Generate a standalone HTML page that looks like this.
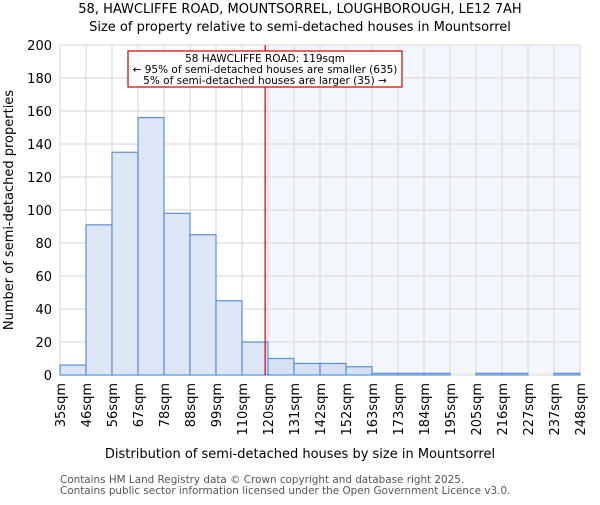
<!DOCTYPE html>
<html><head><meta charset="utf-8"><style>
body{margin:0;background:#fff;}
svg text{font-family:"DejaVu Sans","Liberation Sans",sans-serif;}
</style></head><body>
<svg id="c" width="600" height="500" xmlns="http://www.w3.org/2000/svg">
<text x="300" y="13" text-anchor="middle" font-size="13">58, HAWCLIFFE ROAD, MOUNTSORREL, LOUGHBOROUGH, LE12 7AH</text>
<text x="300" y="31" text-anchor="middle" font-size="13">Size of property relative to semi-detached houses in Mountsorrel</text>
<g id="plot"></g>
<text x="300" y="458" text-anchor="middle" font-size="13">Distribution of semi-detached houses by size in Mountsorrel</text>
<text transform="translate(13,210) rotate(-90)" text-anchor="middle" font-size="13">Number of semi-detached properties</text>
<text x="60" y="483" font-size="10.4" fill="#555">Contains HM Land Registry data © Crown copyright and database right 2025.</text>
<text x="60" y="494" font-size="10.4" fill="#555">Contains public sector information licensed under the Open Government Licence v3.0.</text>
</svg>
<script>
const labels=["35sqm","46sqm","56sqm","67sqm","78sqm","88sqm","99sqm","110sqm","120sqm","131sqm","142sqm","152sqm","163sqm","173sqm","184sqm","195sqm","205sqm","216sqm","227sqm","237sqm","248sqm"];
const counts=[6,91,135,156,98,85,45,20,10,7,7,5,1,1,1,0,1,1,0,1];
const yTicks=[0,20,40,60,80,100,120,140,160,180,200];
const markerBin=7.89;
const NS="http://www.w3.org/2000/svg";
const L=60,R=580,T=45,B=375,yMax=200;
const bw=(R-L)/counts.length;
const xs=i=>L+i*bw, ys=v=>B-(v/yMax)*(B-T);
const g=document.getElementById('plot');
function mk(t,a){const e=document.createElementNS(NS,t);for(const k in a)e.setAttribute(k,a[k]);g.appendChild(e);return e;}
const mx=xs(markerBin);
let e=mk('rect',{x:mx,y:T,width:R-mx,height:B-T,fill:'#f3f6fd'});


yTicks.forEach(v=>{const y=ys(v);
 let l=mk('line',{x1:L,x2:R,y1:y,y2:y,stroke:'#d6d6d6','stroke-width':1});
 
 
 let t=mk('text',{x:L-8,y:y+5,'text-anchor':'end','font-size':13});t.textContent=v;
 
 
});
labels.forEach((s,i)=>{const x=xs(i);
 let l=mk('line',{x1:x,x2:x,y1:T,y2:B,stroke:'#d6d6d6','stroke-width':1});
 
 
 let t=mk('text',{transform:`translate(${x+5},${B+8}) rotate(-90)`,'text-anchor':'end','font-size':13});t.textContent=s;
 
 
});
counts.forEach((v,i)=>{if(v<=0)return;
 const y=ys(v);
 let r=mk('rect',{x:xs(i),y:y,width:bw,height:B-y,fill:i<8?'#dce6f5':'#d6e1f4',stroke:'#5b8fd6','stroke-width':1.2});
 
 
});
e=mk('line',{x1:mx,x2:mx,y1:T,y2:B,stroke:'#c00','stroke-width':1.2});


e=mk('rect',{x:128,y:51,width:274,height:36,fill:'#fff',stroke:'#c00','stroke-width':1.2});


[["58 HAWCLIFFE ROAD: 119sqm",62],["← 95% of semi-detached houses are smaller (635)",73],["5% of semi-detached houses are larger (35) →",84]].forEach(([s,y])=>{
 let t=mk('text',{x:265,y:y,'text-anchor':'middle','font-size':10.5});t.textContent=s;
 
 
});
</script>
</body></html>
